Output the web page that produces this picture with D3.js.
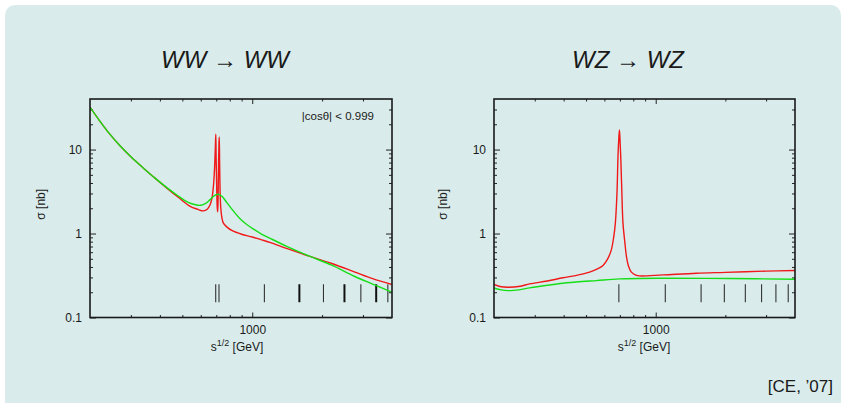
<!DOCTYPE html>
<html>
<head>
<meta charset="utf-8">
<script src="https://cdn.jsdelivr.net/npm/d3@7"></script>
<style>
  html, body { margin: 0; padding: 0; background: #ffffff; }
  svg { display: block; }
  text { font-family: "Liberation Sans", Arial, Helvetica, sans-serif; fill: #1a1a1a; }
</style>
</head>
<body>
<svg id="chart" width="842" height="403"></svg>
<script>
// ---------------- DATA ----------------
// WW -> WW, green curve
const wwGreenEnergy = [200, 220, 240, 270, 300, 340, 380, 430, 480, 530, 570, 600, 630, 660, 690, 714, 740, 780, 830, 886, 950, 1016, 1100, 1200, 1416, 1786, 2200, 2752, 3300, 4000];
const wwGreenSigma  = [32, 22, 16, 11, 8.2, 6.0, 4.6, 3.5, 2.8, 2.35, 2.2, 2.17, 2.28, 2.55, 2.85, 2.94, 2.78, 2.3, 1.85, 1.5, 1.27, 1.12, 0.98, 0.87, 0.70, 0.53, 0.42, 0.31, 0.25, 0.20];
// WW -> WW, red curve
const wwRedEnergy = [200, 220, 240, 270, 300, 340, 380, 430, 480, 540, 580, 616, 640, 657, 670, 680, 688, 693, 696.5, 699, 703, 707, 710, 713, 716, 719, 721, 723.5, 727, 732, 740, 751, 776, 820, 900, 1000, 1082, 1200, 1416, 1786, 2200, 2752, 3300, 4000];
const wwRedSigma  = [32, 22, 16, 11, 8.2, 6.0, 4.6, 3.45, 2.7, 2.11, 1.95, 1.86, 1.95, 2.17, 2.6, 3.6, 6, 10, 15.2, 8, 3.5, 2.0, 1.81, 3, 7, 12, 14.1, 7, 3.2, 2.0, 1.55, 1.33, 1.2, 1.08, 0.98, 0.91, 0.85, 0.78, 0.66, 0.53, 0.44, 0.35, 0.29, 0.247];
// WW -> WW, resonance masses (rug) and multiplicity
const wwResonances = [696, 719, 1128, 1596, 2027, 2496, 2937, 3419, 3838];
const wwMultiplicity = [1, 1, 1, 2, 1, 2, 1, 2, 1];

// WZ -> WZ, green curve
const wzGreenEnergy = [200, 215, 230, 260, 285, 340, 397, 480, 554, 697, 1077, 2086, 4000];
const wzGreenSigma  = [0.225, 0.213, 0.209, 0.215, 0.225, 0.242, 0.256, 0.268, 0.275, 0.288, 0.293, 0.291, 0.286];
// WZ -> WZ, red curve
const wzRedEnergy = [200, 215, 230, 260, 285, 340, 397, 460, 518, 560, 592, 620, 642, 658, 669, 680, 687, 692, 697, 701, 706, 713, 722, 735, 748, 765, 785, 820, 852, 1077, 1500, 2000, 3000, 4000];
const wzRedSigma  = [0.247, 0.232, 0.229, 0.236, 0.251, 0.272, 0.297, 0.32, 0.347, 0.38, 0.417, 0.5, 0.63, 0.9, 1.32, 3.0, 8.3, 13, 17.1, 13, 8.3, 3.5, 1.32, 0.8, 0.525, 0.40, 0.347, 0.32, 0.313, 0.322, 0.337, 0.345, 0.357, 0.363];
// WZ -> WZ, resonance masses (rug)
const wzResonances = [693, 1100, 1571, 1980, 2440, 2868, 3308, 3739];
const wzMultiplicity = [1, 1, 1, 1, 1, 1, 1, 1];

// Axes
const xDomain = [200, 4000];
const yDomain = [0.1, 40];
const xMajorTicks = [1000];
const xMajorLabels = ["1000"];
const xMinorTicks = [300, 400, 500, 600, 700, 800, 900, 2000, 3000];
const yMajorTicks = [0.1, 1, 10];
const yMajorLabels = ["0.1", "1", "10"];
const yMinorTicks = [0.2, 0.3, 0.4, 0.5, 0.6, 0.7, 0.8, 0.9, 2, 3, 4, 5, 6, 7, 8, 9, 20, 30];
const rugRange = [0.152, 0.249];

const titles = ["WW \u2192 WW", "WZ \u2192 WZ"];
const cutLabel = "|cos\u03B8| < 0.999";
const credit = "[CE, \u201907]";

// ---------------- DRAW ----------------
const svg = d3.select("#chart");

svg.append("rect")
  .attr("x", 5).attr("y", 5)
  .attr("width", 836).attr("height", 420)
  .attr("rx", 10).attr("ry", 10)
  .attr("fill", "#d9eceb");

const panels = [
  { left: 90, right: 392, top: 99, bottom: 317.5, title: titles[0], titleX: 225, xLabelX: 237, yLabelX: 45,
    green: [wwGreenEnergy, wwGreenSigma], red: [wwRedEnergy, wwRedSigma],
    rug: wwResonances, mult: wwMultiplicity, note: cutLabel, id: "p1" },
  { left: 494, right: 795, top: 99, bottom: 317.5, title: titles[1], titleX: 628, xLabelX: 644, yLabelX: 447,
    green: [wzGreenEnergy, wzGreenSigma], red: [wzRedEnergy, wzRedSigma],
    rug: wzResonances, mult: wzMultiplicity, note: null, id: "p2" }
];

panels.forEach(p => {
  const x = d3.scaleLog().domain(xDomain).range([p.left, p.right]);
  const y = d3.scaleLog().domain(yDomain).range([p.bottom, p.top]);
  const g = svg.append("g");

  svg.append("text")
    .attr("x", p.titleX).attr("y", 68)
    .attr("text-anchor", "middle")
    .style("font-size", "24px")
    .style("font-style", "italic")
    .text(p.title);

  svg.append("clipPath").attr("id", "clip-" + p.id)
    .append("rect")
    .attr("x", p.left).attr("y", p.top)
    .attr("width", p.right - p.left).attr("height", p.bottom - p.top);

  const axisStyle = sel => {
    sel.select(".domain").remove();
    sel.selectAll("line").attr("stroke", "#222").attr("stroke-width", 1);
    sel.selectAll("text").style("font-size", "12px").style("fill", "#1a1a1a")
      .style("font-family", "'Liberation Sans', Arial, sans-serif");
  };
  g.append("g").attr("transform", `translate(0,${p.bottom})`)
    .call(d3.axisBottom(x).tickValues(xMajorTicks).tickSizeInner(-5).tickSizeOuter(0).tickPadding(8)
      .tickFormat((d, i) => xMajorLabels[i])).call(axisStyle);
  g.append("g").attr("transform", `translate(0,${p.bottom})`)
    .call(d3.axisBottom(x).tickValues(xMinorTicks).tickSizeInner(-2.5).tickSizeOuter(0).tickFormat("")).call(axisStyle);
  g.append("g").attr("transform", `translate(0,${p.top})`)
    .call(d3.axisTop(x).tickValues(xMajorTicks).tickSizeInner(-5).tickSizeOuter(0).tickFormat("")).call(axisStyle);
  g.append("g").attr("transform", `translate(0,${p.top})`)
    .call(d3.axisTop(x).tickValues(xMinorTicks).tickSizeInner(-2.5).tickSizeOuter(0).tickFormat("")).call(axisStyle);
  g.append("g").attr("transform", `translate(${p.left},0)`)
    .call(d3.axisLeft(y).tickValues(yMajorTicks).tickSizeInner(-6).tickSizeOuter(0).tickPadding(8)
      .tickFormat((d, i) => yMajorLabels[i])).call(axisStyle);
  g.append("g").attr("transform", `translate(${p.left},0)`)
    .call(d3.axisLeft(y).tickValues(yMinorTicks).tickSizeInner(-3).tickSizeOuter(0).tickFormat("")).call(axisStyle);
  g.append("g").attr("transform", `translate(${p.right},0)`)
    .call(d3.axisRight(y).tickValues(yMajorTicks).tickSizeInner(-6).tickSizeOuter(0).tickFormat("")).call(axisStyle);
  g.append("g").attr("transform", `translate(${p.right},0)`)
    .call(d3.axisRight(y).tickValues(yMinorTicks).tickSizeInner(-3).tickSizeOuter(0).tickFormat("")).call(axisStyle);

  g.append("g").selectAll("line").data(p.rug).join("line")
    .attr("x1", d => x(d)).attr("x2", d => x(d))
    .attr("y1", y(rugRange[0])).attr("y2", y(rugRange[1]))
    .attr("stroke", (d, i) => p.mult[i] > 1 ? "#111" : "#333")
    .attr("stroke-width", (d, i) => p.mult[i] > 1 ? 2 : 1.1);

  const line = d3.line().x(d => x(d[0])).y(d => y(d[1])).curve(d3.curveCatmullRom.alpha(0.5));
  const redPts = p.red[0].map((e, i) => [e, p.red[1][i]]);
  const greenPts = p.green[0].map((e, i) => [e, p.green[1][i]]);
  const curves = g.append("g").attr("clip-path", `url(#clip-${p.id})`);
  curves.append("path").datum(redPts).attr("d", line)
    .attr("fill", "none").attr("stroke", "#f01818").attr("stroke-width", 1.4);
  curves.append("path").datum(greenPts).attr("d", line)
    .attr("fill", "none").attr("stroke", "#16de16").attr("stroke-width", 1.4);

  g.append("rect")
    .attr("x", p.left).attr("y", p.top)
    .attr("width", p.right - p.left).attr("height", p.bottom - p.top)
    .attr("fill", "none").attr("stroke", "#1a1a1a").attr("stroke-width", 1.6);

  const xl = svg.append("text")
    .attr("x", p.xLabelX).attr("y", 351)
    .attr("text-anchor", "middle")
    .style("font-size", "12px");
  xl.append("tspan").text("s");
  xl.append("tspan").attr("dy", -5).style("font-size", "9px").text("1/2");
  xl.append("tspan").attr("dy", 5).text(" [GeV]");

  svg.append("text")
    .attr("transform", `translate(${p.yLabelX},${(p.top + p.bottom) / 2 - 4}) rotate(-90)`)
    .attr("text-anchor", "middle")
    .style("font-size", "12px")
    .text("\u03C3 [nb]");

  if (p.note) {
    svg.append("text")
      .attr("x", p.right - 18).attr("y", 119.5)
      .attr("text-anchor", "end")
      .style("font-size", "11.5px")
      .text(p.note);
  }
});

svg.append("text")
  .attr("x", 833).attr("y", 392)
  .attr("text-anchor", "end")
  .style("font-size", "17px")
  .text(credit);
</script>
</body>
</html>
